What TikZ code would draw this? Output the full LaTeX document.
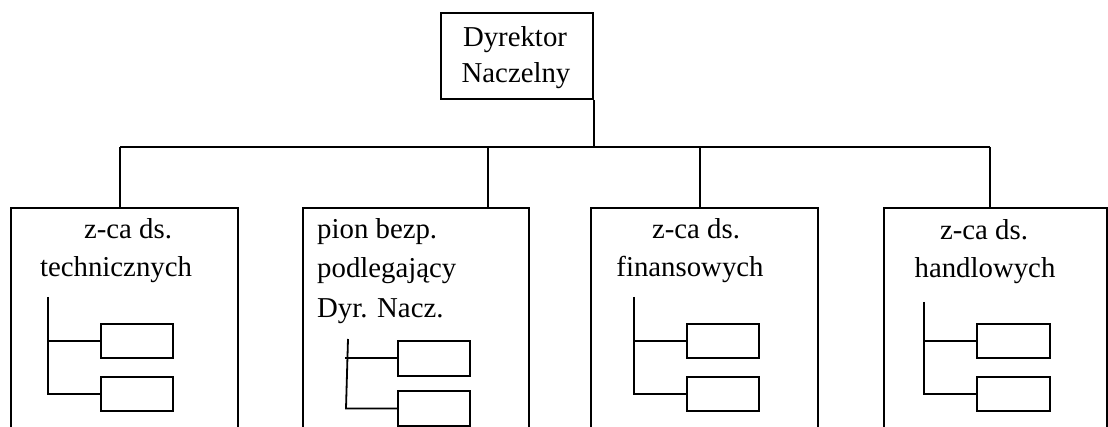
\documentclass[tikz,border=0pt]{standalone}
\usepackage{fontspec}
\setmainfont{Liberation Serif}
\begin{document}
\begin{tikzpicture}[x=1pt,y=-1pt,
  line/.style={line width=1.8pt},
  unit/.style={draw,line width=1.8pt,rectangle,inner sep=0pt,anchor=north west},
  subbox/.style={draw,line width=1.8pt,rectangle,inner sep=0pt,
    minimum width=72pt,minimum height=34pt,anchor=north west},
  lbl/.style={inner sep=0pt,anchor=base,font=\fontsize{28.8}{36}\selectfont},
  lblw/.style={lbl,anchor=base west}]
\useasboundingbox (0,0) rectangle (1108,427);
\clip (0,0) rectangle (1108,427);

% head of the organisation
\node[unit,minimum width=152pt,minimum height=86pt] (dir) at (440,12) {};
\node[lbl] (dirA) at (515,47) {Dyrektor};
\node[lbl] (dirB) at (516,83) {Naczelny};

% departments (boxes continue below the page edge)
\node[unit,minimum width=227pt,minimum height=260pt] (u1) at (10,207) {};
\node[unit,minimum width=226pt,minimum height=260pt] (u2) at (302,207) {};
\node[unit,minimum width=227pt,minimum height=260pt] (u3) at (590,207) {};
\node[unit,minimum width=223pt,minimum height=260pt] (u4) at (883,207) {};

% bus line and drops
\coordinate (busL) at (120,147);
\coordinate (busR) at (990,147);
\coordinate (d2) at (488,147);
\coordinate (d3) at (700,147);
\draw[line] (busL) -- (busR);
\draw[line] (dir.south east) -- (dir.south east |- busL);
\draw[line] (busL) -- (busL |- u1.north);
\draw[line] (d2) -- (d2 |- u2.north);
\draw[line] (d3) -- (d3 |- u3.north);
\draw[line] (busR) -- (busR |- u4.north);

% department labels
\node[lbl] (u1a) at (128,239) {z-ca ds.};
\node[lbl] (u1b) at (116,277) {technicznych};
\node[lblw] (u2a) at (317,239) {pion bezp.};
\node[lblw] (u2b) at (317,278) {podlegający};
\node[lblw] (u2c) at (317,318) {Dyr. Nacz.};
\node[lbl] (u3a) at (696,239) {z-ca ds.};
\node[lbl] (u3b) at (690,277) {finansowych};
\node[lbl] (u4a) at (984,240) {z-ca ds.};
\node[lbl] (u4b) at (985,278) {handlowych};

% sub-units in each department
\node[subbox] (s11) at (100,323) {};
\node[subbox] (s12) at (100,376) {};
\coordinate (r1) at (48,297);
\draw[line] (r1) |- (s12.west);
\draw[line] (r1 |- s11.west) -- (s11.west);

\node[subbox,minimum height=35pt] (s21) at (397,340) {};
\node[subbox,minimum height=35pt] (s22) at (397,390) {};
\coordinate (r2) at (348,339);
\coordinate (r2b) at (346,0);
\coordinate (r2k) at (345,0);
\draw[line] (r2) -- (r2b |- s22.west) -- (s22.west);
\draw[line] (r2k |- s21.west) -- (s21.west);

\node[subbox] (s31) at (686,323) {};
\node[subbox] (s32) at (686,376) {};
\coordinate (r3) at (634,297);
\draw[line] (r3) |- (s32.west);
\draw[line] (r3 |- s31.west) -- (s31.west);

\node[subbox,minimum width=73pt] (s41) at (976,323) {};
\node[subbox,minimum width=73pt] (s42) at (976,376) {};
\coordinate (r4) at (924,302);
\draw[line] (r4) |- (s42.west);
\draw[line] (r4 |- s41.west) -- (s41.west);
\end{tikzpicture}
\end{document}
